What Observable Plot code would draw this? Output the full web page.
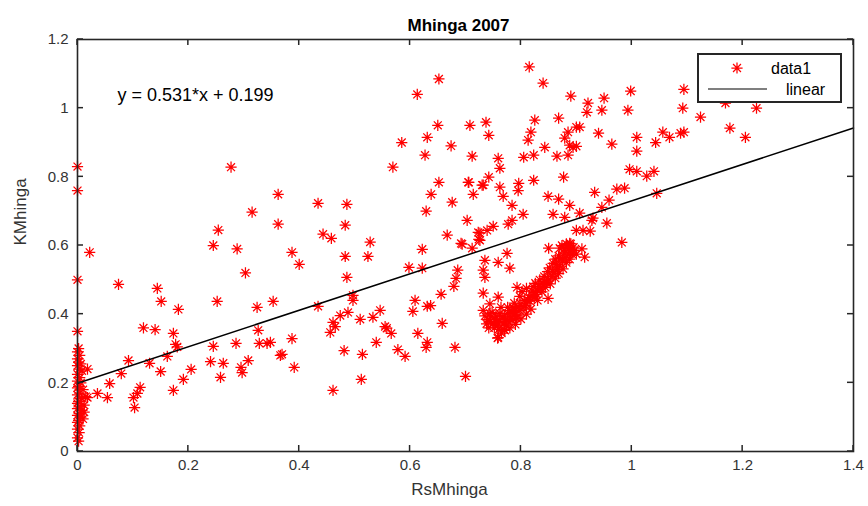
<!DOCTYPE html>
<html>
<head>
<meta charset="utf-8">
<script src="https://cdn.jsdelivr.net/npm/d3@7"></script>
<script src="https://cdn.jsdelivr.net/npm/@observablehq/plot@0.6"></script>
<style>
  html, body { margin: 0; padding: 0; background: #fff; }
  #chart { width: 868px; height: 506px; }
</style>
</head>
<body>
<div id="chart"></div>
<script>
// ---- Labels and ticks ----
const title = "Mhinga 2007";
const xLabel = "RsMhinga";
const yLabel = "KMhinga";
const xTicks = [0, 0.2, 0.4, 0.6, 0.8, 1, 1.2, 1.4];
const yTicks = [0, 0.2, 0.4, 0.6, 0.8, 1, 1.2];
const fitSlope = 0.531;
const fitIntercept = 0.199;
const fitText = "y = 0.531*x + 0.199";
const legendLabels = ["data1", "linear"];

// ---- Data (RsMhinga, KMhinga) ----
const pointsNearZero = [
  [0,0.83],[0,0.76],[0,0.50],[0,0.35],[0.002,0.30],[0,0.29],[0.004,0.28],[0,0.27],[0.002,0.26],
  [0.006,0.255],[0,0.25],[0.003,0.24],[0.008,0.235],[0,0.225],[0.004,0.215],[0,0.205],[0.006,0.20],
  [0.002,0.19],[0,0.185],[0.01,0.18],[0.004,0.17],[0,0.165],[0.007,0.155],[0.002,0.145],[0,0.14],
  [0.012,0.135],[0.005,0.13],[0,0.125],[0.008,0.12],[0.003,0.11],[0,0.105],[0.006,0.10],[0.002,0.09],
  [0,0.085],[0.004,0.075],[0,0.065],[0.003,0.055],[0,0.04],[0.002,0.03],[0.015,0.16],[0.012,0.115],
  [0.01,0.095],[0.018,0.24]
];
const pointsLeft = [
  [0.022,0.58],[0.074,0.487],[0.144,0.475],[0.151,0.437],[0.182,0.414],[0.245,0.60],[0.254,0.645],
  [0.288,0.59],[0.303,0.52],[0.252,0.437],[0.324,0.42],[0.353,0.437],[0.119,0.36],[0.14,0.355],
  [0.173,0.344],[0.177,0.312],[0.18,0.305],[0.162,0.277],[0.13,0.257],[0.15,0.233],[0.092,0.265],
  [0.079,0.227],[0.058,0.198],[0.036,0.169],[0.054,0.157],[0.018,0.157],[0.113,0.187],[0.108,0.169],
  [0.101,0.157],[0.103,0.128],[0.173,0.178],[0.191,0.21],[0.205,0.239],[0.24,0.262],[0.245,0.306],
  [0.263,0.257],[0.258,0.216],[0.286,0.315],[0.295,0.245],[0.297,0.23],[0.308,0.265],[0.326,0.353],
  [0.328,0.315],[0.342,0.315],[0.366,0.28],[0.277,0.828],[0.315,0.697],[0.362,0.749],[0.362,0.662],
  [0.348,0.318],[0.369,0.283],[0.387,0.329],[0.391,0.245],[0.387,0.58],[0.40,0.545]
];
const pointsMiddle = [
  [0.434,0.723],[0.486,0.72],[0.483,0.659],[0.443,0.633],[0.458,0.621],[0.528,0.61],[0.483,0.568],
  [0.524,0.568],[0.486,0.507],[0.434,0.423],[0.497,0.455],[0.497,0.44],[0.488,0.405],[0.474,0.396],
  [0.461,0.376],[0.465,0.364],[0.456,0.347],[0.51,0.385],[0.533,0.391],[0.546,0.411],[0.555,0.364],
  [0.558,0.359],[0.566,0.344],[0.539,0.318],[0.481,0.294],[0.514,0.283],[0.512,0.21],[0.461,0.178],
  [0.578,0.297],[0.591,0.277],[0.598,0.536],[0.622,0.534],[0.622,0.589],[0.609,0.44],[0.605,0.408],
  [0.631,0.423],[0.637,0.425],[0.614,0.344],[0.631,0.318],[0.629,0.303],[0.656,0.458],[0.658,0.373],
  [0.681,0.303],[0.70,0.219],[0.569,0.828],[0.652,0.784],[0.638,0.749],[0.629,0.70],[0.676,0.726],
  [0.667,0.63],[0.694,0.604],[0.686,0.528],[0.683,0.504],[0.679,0.481],[0.692,0.606],[0.585,0.90]
];
const pointsUpper = [
  [0.815,1.12],[0.84,1.073],[0.89,1.035],[0.652,1.085],[0.613,1.04],[0.65,0.95],[0.708,0.95],
  [0.737,0.959],[0.742,0.921],[0.825,0.965],[0.868,0.971],[0.818,0.93],[0.813,0.907],[0.843,0.886],
  [0.879,0.913],[0.885,0.93],[0.90,0.945],[0.631,0.915],[0.674,0.89],[0.627,0.863],[0.712,0.86],
  [0.759,0.854],[0.762,0.825],[0.805,0.857],[0.823,0.863],[0.865,0.86],[0.885,0.863],[0.894,0.886],
  [0.705,0.784],[0.732,0.776],[0.742,0.799],[0.714,0.749],[0.762,0.77],[0.768,0.743],[0.796,0.781],
  [0.795,0.76],[0.823,0.79],[0.877,0.799],[0.784,0.717],[0.804,0.691],[0.784,0.673],[0.777,0.662],
  [0.849,0.743],[0.868,0.735],[0.888,0.717],[0.858,0.691],[0.879,0.682],[0.703,0.673],[0.75,0.656],
  [0.739,0.644],[0.726,0.636],[0.723,0.638],[0.726,0.615],[0.712,0.592],[0.73,0.776],[0.706,0.784],
  [0.90,0.644],[0.724,0.618]
];
const pointsRight = [
  [0.998,1.05],[1.094,1.055],[0.95,1.029],[0.921,1.015],[0.919,0.988],[0.946,0.994],[0.993,0.994],
  [1.092,1.0],[1.124,0.974],[0.906,0.945],[0.94,0.927],[0.888,0.892],[0.90,0.889],[0.964,0.895],
  [1.009,0.915],[1.009,0.875],[1.043,0.90],[1.056,0.93],[1.068,0.915],[1.088,0.927],[1.094,0.93],
  [0.996,0.822],[1.009,0.816],[1.027,0.802],[1.04,0.816],[0.933,0.755],[0.973,0.764],[0.987,0.767],
  [1.045,0.752],[0.959,0.732],[0.946,0.711],[0.906,0.694],[0.93,0.68],[0.928,0.673],[0.955,0.665],
  [0.912,0.644],[0.925,0.642],[0.982,0.609],[0.888,0.606],[1.169,1.015],[1.225,1.0],[1.177,0.942],
  [1.205,0.915]
];
const pointsBand = [
  [0.775,0.577],[0.759,0.551],[0.78,0.534],[0.735,0.557],[0.732,0.528],[0.735,0.507],[0.732,0.461],
  [0.759,0.45],[0.793,0.478],[0.732,0.411],[0.849,0.446],[0.759,0.332],[0.771,0.353],[0.85,0.592],
  [0.883,0.595],[0.915,0.566],[0.91,0.59],
  [0.735,0.395],[0.74,0.385],[0.745,0.378],[0.75,0.372],[0.752,0.36],[0.758,0.368],[0.762,0.38],
  [0.768,0.372],[0.77,0.355],[0.772,0.385],[0.778,0.378],[0.782,0.392],[0.755,0.395],[0.748,0.405],
  [0.762,0.402],[0.776,0.402],[0.786,0.405],[0.79,0.415],[0.795,0.422],[0.80,0.43],[0.788,0.432],
  [0.806,0.44],[0.81,0.432],[0.815,0.448],[0.798,0.452],[0.82,0.455],[0.826,0.463],[0.83,0.47],
  [0.836,0.476],[0.822,0.48],[0.84,0.486],[0.846,0.492],[0.85,0.50],[0.834,0.50],[0.856,0.51],
  [0.86,0.52],[0.848,0.524],[0.866,0.53],[0.87,0.54],[0.858,0.548],[0.875,0.555],[0.88,0.565],
  [0.868,0.57],[0.885,0.575],[0.89,0.585],[0.878,0.59],[0.895,0.595],[0.874,0.60],[0.89,0.605],
  [0.78,0.36],[0.79,0.37],[0.80,0.386],[0.81,0.40],[0.776,0.42],[0.764,0.42],[0.802,0.466],
  [0.826,0.49],[0.842,0.51],[0.744,0.43],[0.742,0.36],[0.765,0.345],[0.758,0.33],[0.795,0.395],
  [0.818,0.415],[0.83,0.44],[0.81,0.475],[0.852,0.535],[0.862,0.56],[0.9,0.575],
  [0.738,0.372],[0.746,0.392],[0.754,0.385],[0.76,0.356],[0.766,0.392],[0.774,0.368],[0.784,0.382],
  [0.788,0.398],[0.792,0.388],[0.798,0.41],[0.804,0.418],[0.808,0.425],[0.812,0.442],[0.816,0.438],
  [0.82,0.468],[0.824,0.447],[0.828,0.458],[0.832,0.482],[0.838,0.465],[0.842,0.495],[0.844,0.478],
  [0.848,0.505],[0.853,0.488],[0.857,0.525],[0.862,0.505],[0.864,0.545],[0.868,0.518],[0.872,0.562],
  [0.876,0.532],[0.878,0.578],[0.882,0.55],[0.886,0.592],[0.888,0.56],[0.892,0.575],[0.896,0.585],
  [0.87,0.592],[0.882,0.605],[0.744,0.402],[0.756,0.378],[0.77,0.395],[0.78,0.41],[0.786,0.418]
];

const points = [...pointsNearZero, ...pointsLeft, ...pointsMiddle, ...pointsUpper, ...pointsRight, ...pointsBand]
  .map(([x, y]) => ({x, y}));
const fitLine = [xTicks[0], xTicks[xTicks.length - 1]].map(x => ({x, y: fitSlope * x + fitIntercept}));

// MATLAB-style asterisk marker
const asterisk = {
  draw(ctx, size) {
    const r = Math.sqrt(size / Math.PI);
    const d = r * Math.SQRT1_2;
    ctx.moveTo(-r, 0); ctx.lineTo(r, 0);
    ctx.moveTo(0, -r); ctx.lineTo(0, r);
    ctx.moveTo(-d, -d); ctx.lineTo(d, d);
    ctx.moveTo(-d, d); ctx.lineTo(d, -d);
  }
};

const ink = "#262626";
const fmt = d => String(d);

const svg = Plot.plot({
  width: 868,
  height: 506,
  marginLeft: 77,
  marginRight: 15,
  marginTop: 39,
  marginBottom: 55,
  style: {fontFamily: "'Liberation Sans', Arial, sans-serif", fontSize: "15px", color: ink, background: "#fff", overflow: "visible"},
  x: {domain: [0, 1.4]},
  y: {domain: [0, 1.2]},
  marks: [
    Plot.axisX({ticks: xTicks, tickSize: 0, tickPadding: 8, tickFormat: fmt, label: null, fontSize: 15, fill: "#333"}),
    Plot.axisY({ticks: yTicks, tickSize: 0, tickPadding: 9, tickFormat: fmt, label: null, fontSize: 15, fill: "#333"}),
    Plot.dot(points, {x: "x", y: "y", symbol: asterisk, r: 5.6, stroke: "#ff0000", fill: "none", strokeWidth: 1.25}),
    Plot.line(fitLine, {x: "x", y: "y", stroke: "#000", strokeWidth: 1.5}),
    Plot.frame({stroke: ink, strokeWidth: 1.6}),
    Plot.text([fitText], {x: 0.072, y: 1.038, text: d => d, textAnchor: "start", fontSize: 18, fill: "#000"}),
    Plot.text([title], {frameAnchor: "top", dy: -21, dx: -7, text: d => d, fontSize: 17, fontWeight: "bold", fill: "#000"}),
    Plot.text([xLabel], {frameAnchor: "bottom", dy: 43, dx: -16, text: d => d, fontSize: 17, fill: "#333"}),
    Plot.text([yLabel], {frameAnchor: "left", dx: -57, rotate: -90, text: d => d, fontSize: 17, fill: "#333"})
  ]
});

// inward tick marks on all four sides, placed via the plot's scales
const sx = svg.scale("x"), sy = svg.scale("y");
const tl = 6;
const tg = d3.select(svg).append("g").attr("stroke", ink).attr("stroke-width", 1.5);
const x0 = sx.apply(0), x1 = sx.apply(1.4), y0 = sy.apply(0), y1 = sy.apply(1.2);
for (const v of xTicks) {
  const px = sx.apply(v);
  tg.append("line").attr("x1", px).attr("x2", px).attr("y1", y0).attr("y2", y0 - tl);
  tg.append("line").attr("x1", px).attr("x2", px).attr("y1", y1).attr("y2", y1 + tl);
}
for (const v of yTicks) {
  const py = sy.apply(v);
  tg.append("line").attr("y1", py).attr("y2", py).attr("x1", x0).attr("x2", x0 + tl);
  tg.append("line").attr("y1", py).attr("y2", py).attr("x1", x1).attr("x2", x1 - tl);
}

// legend box (top right)
const lg = d3.select(svg).append("g").attr("text-anchor", "start");
lg.append("rect").attr("x", 698).attr("y", 54).attr("width", 143).attr("height", 48)
  .attr("fill", "#fff").attr("stroke", ink).attr("stroke-width", 2);
const ax = 737, ay = 68, ar = 5.6, ad = ar * Math.SQRT1_2;
lg.append("path")
  .attr("d", `M${ax - ar},${ay}L${ax + ar},${ay}M${ax},${ay - ar}L${ax},${ay + ar}M${ax - ad},${ay - ad}L${ax + ad},${ay + ad}M${ax - ad},${ay + ad}L${ax + ad},${ay - ad}`)
  .attr("stroke", "#ff0000").attr("fill", "none").attr("stroke-width", 1.25);
lg.append("text").attr("x", 771).attr("y", 68).attr("dy", "0.35em").attr("font-size", 16).attr("fill", "#000").text(legendLabels[0]);
lg.append("line").attr("x1", 708).attr("x2", 767).attr("y1", 89).attr("y2", 89).attr("stroke", "#000").attr("stroke-width", 1.2);
lg.append("text").attr("x", 786).attr("y", 89).attr("dy", "0.35em").attr("font-size", 16).attr("fill", "#000").text(legendLabels[1]);

document.getElementById("chart").appendChild(svg);
</script>
</body>
</html>
